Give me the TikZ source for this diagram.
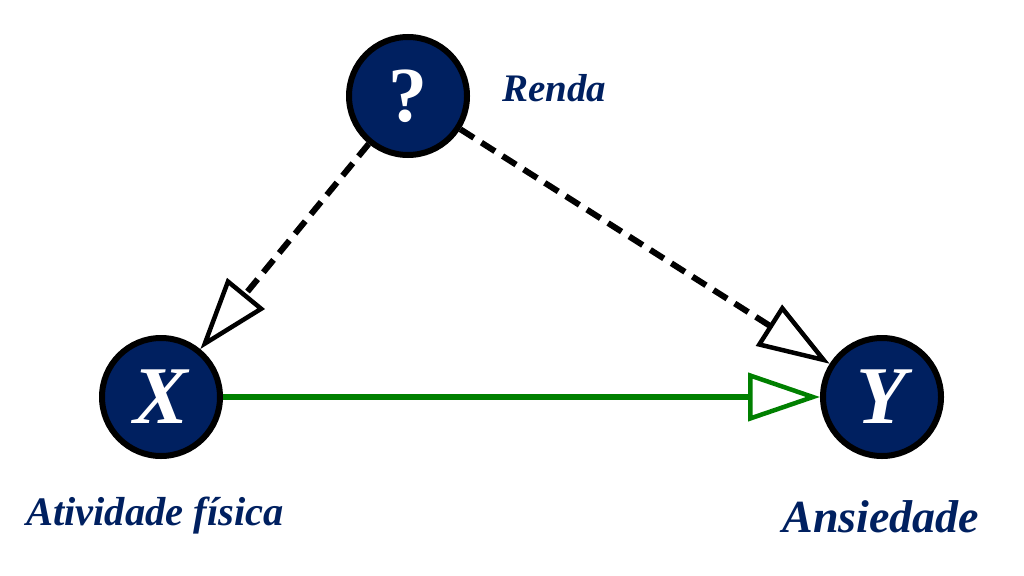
\documentclass[tikz,border=0pt]{standalone}
\usepackage{fontspec}
\setmainfont{Liberation Serif}
\usetikzlibrary{arrows.meta}
\definecolor{navy}{HTML}{002060}
\definecolor{arrgreen}{HTML}{008000}
\begin{document}
\begin{tikzpicture}[x=1pt,y=-1pt,
 var/.style={circle, fill=navy, draw=black, line width=6pt, minimum size=118pt, inner sep=0pt, text=white, font=\fontsize{82}{82}\selectfont\bfseries\itshape},
 lbl/.style={text=navy, font=\fontsize{40.5}{40.5}\selectfont\bfseries\itshape, anchor=base, inner sep=0pt},
 hollow/.style={-{Triangle[open, length=72pt, width=48pt, line width=4.5pt]}},
 conf/.style={hollow, draw=black, line width=6pt, dash pattern=on 16pt off 9pt},
 cause/.style={hollow, draw=arrgreen, line width=5.5pt}]
\useasboundingbox (0,0) rectangle (1024,575);
\node[var, font=\fontsize{78}{78}\selectfont\bfseries\upshape] (q) at (408,96) {?};
\node[var] (x) at (161,397) {X};
\node[var] (y) at (882,397) {Y};
\node[lbl, font=\fontsize{39}{39}\selectfont\bfseries\itshape] (lq) at (554,102) {Renda};
\node[lbl] (lx) at (155,525) {Atividade física};
\node[lbl, font=\fontsize{46}{46}\selectfont\bfseries\itshape] (ly) at (881,532) {Ansiedade};
\draw[conf] (q) -- (x);
\draw[conf] (q) -- (y);
\draw[cause] (x) -- (y);
\end{tikzpicture}
\end{document}
